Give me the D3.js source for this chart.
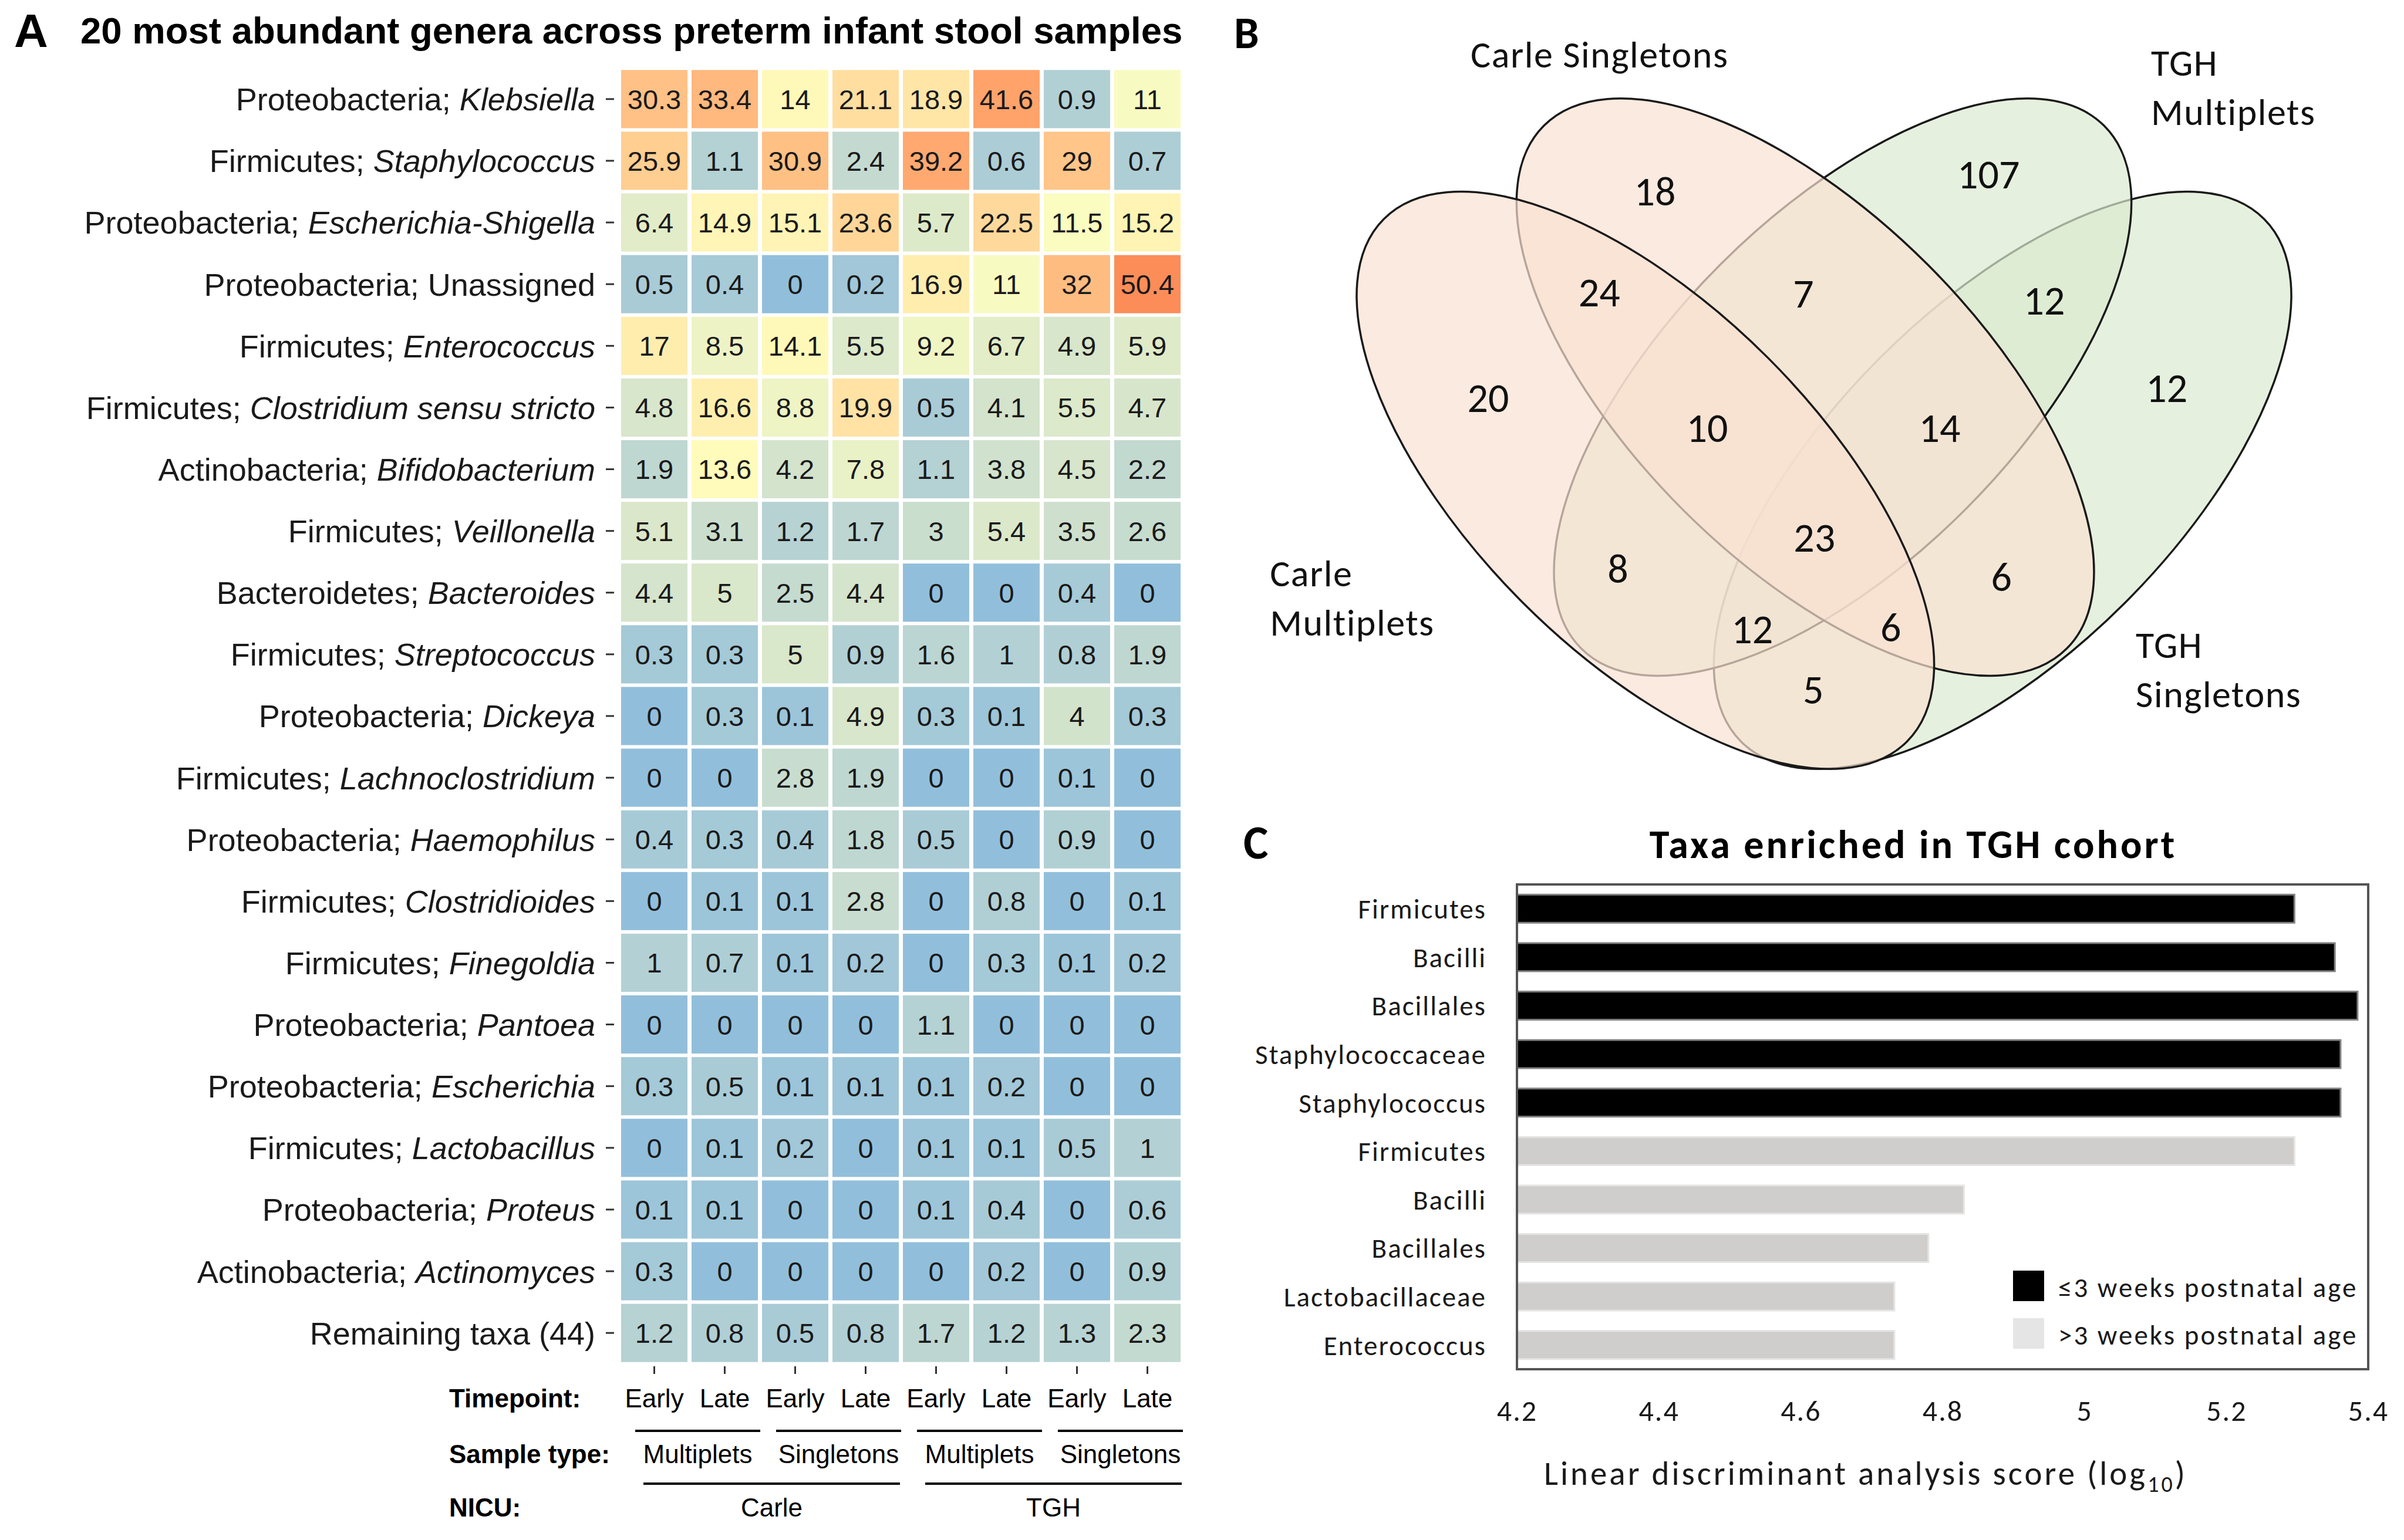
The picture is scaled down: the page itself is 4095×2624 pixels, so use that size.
<!DOCTYPE html>
<html>
<head>
<meta charset="utf-8">
<title>Preterm infant stool genera</title>
<script src="https://d3js.org/d3.v7.min.js"></script>
<style>
  body { margin: 0; background: #fff; }
  svg { display: block; }
</style>
</head>
<body>
<svg id="fig" width="4095" height="2624"></svg>
<script>
// ---- panel A data ----
const phyla = ["Proteobacteria", "Firmicutes", "Proteobacteria", "Proteobacteria", "Firmicutes",
  "Firmicutes", "Actinobacteria", "Firmicutes", "Bacteroidetes", "Firmicutes", "Proteobacteria",
  "Firmicutes", "Proteobacteria", "Firmicutes", "Firmicutes", "Proteobacteria", "Proteobacteria",
  "Firmicutes", "Proteobacteria", "Actinobacteria", null];
const genera = ["Klebsiella", "Staphylococcus", "Escherichia-Shigella", "Unassigned", "Enterococcus",
  "Clostridium sensu stricto", "Bifidobacterium", "Veillonella", "Bacteroides", "Streptococcus",
  "Dickeya", "Lachnoclostridium", "Haemophilus", "Clostridioides", "Finegoldia", "Pantoea",
  "Escherichia", "Lactobacillus", "Proteus", "Actinomyces", "Remaining taxa (44)"];
const italicGenus = genera.map(g => g !== "Unassigned" && g !== "Remaining taxa (44)");
const abundance = [
  [30.3, 33.4, 14, 21.1, 18.9, 41.6, 0.9, 11],
  [25.9, 1.1, 30.9, 2.4, 39.2, 0.6, 29, 0.7],
  [6.4, 14.9, 15.1, 23.6, 5.7, 22.5, 11.5, 15.2],
  [0.5, 0.4, 0, 0.2, 16.9, 11, 32, 50.4],
  [17, 8.5, 14.1, 5.5, 9.2, 6.7, 4.9, 5.9],
  [4.8, 16.6, 8.8, 19.9, 0.5, 4.1, 5.5, 4.7],
  [1.9, 13.6, 4.2, 7.8, 1.1, 3.8, 4.5, 2.2],
  [5.1, 3.1, 1.2, 1.7, 3, 5.4, 3.5, 2.6],
  [4.4, 5, 2.5, 4.4, 0, 0, 0.4, 0],
  [0.3, 0.3, 5, 0.9, 1.6, 1, 0.8, 1.9],
  [0, 0.3, 0.1, 4.9, 0.3, 0.1, 4, 0.3],
  [0, 0, 2.8, 1.9, 0, 0, 0.1, 0],
  [0.4, 0.3, 0.4, 1.8, 0.5, 0, 0.9, 0],
  [0, 0.1, 0.1, 2.8, 0, 0.8, 0, 0.1],
  [1, 0.7, 0.1, 0.2, 0, 0.3, 0.1, 0.2],
  [0, 0, 0, 0, 1.1, 0, 0, 0],
  [0.3, 0.5, 0.1, 0.1, 0.1, 0.2, 0, 0],
  [0, 0.1, 0.2, 0, 0.1, 0.1, 0.5, 1],
  [0.1, 0.1, 0, 0, 0.1, 0.4, 0, 0.6],
  [0.3, 0, 0, 0, 0, 0.2, 0, 0.9],
  [1.2, 0.8, 0.5, 0.8, 1.7, 1.2, 1.3, 2.3]
];
const timepoints = ["Early", "Late", "Early", "Late", "Early", "Late", "Early", "Late"];
const sampleTypes = ["Multiplets", "Singletons", "Multiplets", "Singletons"];
const nicus = ["Carle", "TGH"];

// ---- panel B data ----
const vennSets = ["Carle Multiplets", "Carle Singletons", "TGH Multiplets", "TGH Singletons"];
// membership key: CM CS TM TS
const vennKeys = ["1000", "0100", "0010", "0001", "1100", "0110", "0011", "1110", "0111",
  "1111", "1010", "0101", "1011", "1101", "1001"];
const vennCounts = [20, 18, 107, 12, 24, 7, 12, 10, 14, 23, 8, 6, 12, 6, 5];

// ---- panel C data ----
const ldaTaxa = ["Firmicutes", "Bacilli", "Bacillales", "Staphylococcaceae", "Staphylococcus",
  "Firmicutes", "Bacilli", "Bacillales", "Lactobacillaceae", "Enterococcus"];
const ldaScore = [5.296, 5.353, 5.385, 5.361, 5.361, 5.296, 4.83, 4.78, 4.732, 4.732];
const ldaGroup = [0, 0, 0, 0, 0, 1, 1, 1, 1, 1];
const groupNames = ["\u22643 weeks postnatal age", ">3 weeks postnatal age"];
const xTicks = [4.2, 4.4, 4.6, 4.8, 5, 5.2, 5.4];

const svg = d3.select("#fig");
const fA = "'Liberation Sans', Arial, Helvetica, sans-serif";
const fB = "Carlito, Calibri, Lato, sans-serif";

// ================= Panel A =================
svg.append("text").attr("x", 24).attr("y", 80).attr("font-family", fA)
  .attr("font-weight", "bold").attr("font-size", 80).text("A");
svg.append("text").attr("x", 137).attr("y", 74).attr("font-family", fA)
  .attr("font-weight", "bold").attr("font-size", 63.5)
  .text("20 most abundant genera across preterm infant stool samples");

const x = d3.scaleBand().domain(d3.range(8)).range([1052, 2017])
  .paddingInner(0.058).paddingOuter(0.05);
const y = d3.scaleBand().domain(d3.range(genera.length)).range([114, 2326])
  .paddingInner(0.057).paddingOuter(0.05);
const color = d3.scaleSqrt().domain([0, 12.6, 50.4])
  .range(["#91bfdb", "#ffffbf", "#fc8d59"]).interpolate(d3.interpolateLab).clamp(true);

const cells = [];
abundance.forEach((row, r) => row.forEach((v, c) => cells.push({ r, c, v })));

const gA = svg.append("g");
gA.selectAll("rect.cell").data(cells).join("rect")
  .attr("x", d => x(d.c)).attr("y", d => y(d.r))
  .attr("width", x.bandwidth()).attr("height", y.bandwidth())
  .attr("fill", d => color(d.v));
gA.selectAll("text.val").data(cells).join("text")
  .attr("x", d => x(d.c) + x.bandwidth() / 2).attr("y", d => y(d.r) + y.bandwidth() / 2)
  .attr("dy", "0.36em").attr("text-anchor", "middle")
  .attr("font-family", fA).attr("font-size", 47).attr("fill", "#1a1a1a")
  .text(d => d.v);

// row labels
genera.forEach((g, i) => {
  const cy = y(i) + y.bandwidth() / 2;
  const t = gA.append("text").attr("x", 1014).attr("y", cy).attr("dy", "0.36em")
    .attr("text-anchor", "end").attr("font-family", fA).attr("font-size", 54).attr("fill", "#1a1a1a");
  if (phyla[i]) t.append("tspan").text(phyla[i] + "; ");
  t.append("tspan").attr("font-style", italicGenus[i] ? "italic" : "normal").text(g);
  gA.append("line").attr("x1", 1032).attr("x2", 1046).attr("y1", cy).attr("y2", cy)
    .attr("stroke", "#333").attr("stroke-width", 3);
});
// column ticks
d3.range(8).forEach(c => {
  const cx = x(c) + x.bandwidth() / 2;
  gA.append("line").attr("x1", cx).attr("x2", cx).attr("y1", 2328).attr("y2", 2341)
    .attr("stroke", "#333").attr("stroke-width", 3);
});

// annotation rows under heatmap
const annoFont = 44;
const headers = [["Timepoint:", 2398], ["Sample type:", 2493], ["NICU:", 2584]];
headers.forEach(h => gA.append("text").attr("x", 765).attr("y", h[1]).attr("font-family", fA)
  .attr("font-weight", "bold").attr("font-size", annoFont).text(h[0]));

timepoints.forEach((t, c) => gA.append("text").attr("x", x(c) + x.bandwidth() / 2).attr("y", 2398)
  .attr("text-anchor", "middle").attr("font-family", fA).attr("font-size", annoFont).text(t));

sampleTypes.forEach((s, k) => {
  const x0 = x(2 * k) + 24, x1 = x(2 * k + 1) + x.bandwidth() + 4;
  gA.append("line").attr("x1", x0).attr("x2", x1).attr("y1", 2438).attr("y2", 2438)
    .attr("stroke", "#000").attr("stroke-width", 4);
  gA.append("text").attr("x", (x0 + x1) / 2).attr("y", 2493).attr("text-anchor", "middle")
    .attr("font-family", fA).attr("font-size", annoFont).text(s);
});
nicus.forEach((n, k) => {
  const x0 = x(4 * k) + 38, x1 = x(4 * k + 3) + x.bandwidth() + 2;
  gA.append("line").attr("x1", x0).attr("x2", x1).attr("y1", 2528).attr("y2", 2528)
    .attr("stroke", "#000").attr("stroke-width", 4);
  gA.append("text").attr("x", (x0 + x1) / 2).attr("y", 2584).attr("text-anchor", "middle")
    .attr("font-family", fA).attr("font-size", annoFont).text(n);
});

// ================= Panel B =================
const vx = d3.scaleLinear().domain([-1, 1]).range([2457, 3757]);
const vy = d3.scaleLinear().domain([-1, 1]).range([50, 1350]);
const vk = 650;
// ellipse geometry in the normalised frame
const ellipses = [
  { u: -0.468, v: 0.182, a: 0.969, b: 0.454, rot: 45, fill: "#f9e1d1" },
  { u: -0.049, v: -0.062, a: 0.969, b: 0.454, rot: 45, fill: "#f9e1d1" },
  { u: 0.049, v: -0.062, a: 0.969, b: 0.454, rot: -45, fill: "#dbead0" },
  { u: 0.468, v: 0.182, a: 0.969, b: 0.454, rot: -45, fill: "#dbead0" }
];
const gB = svg.append("g");
[3, 2, 1, 0].forEach(i => {
  const e = ellipses[i];
  const cx = vx(e.u), cy = vy(e.v);
  gB.append("ellipse").attr("cx", cx).attr("cy", cy).attr("rx", e.a * vk).attr("ry", e.b * vk)
    .attr("transform", `rotate(${e.rot} ${cx} ${cy})`)
    .attr("fill", e.fill).attr("fill-opacity", 0.7)
    .attr("stroke", "#1a1a1a").attr("stroke-width", 3.5);
});
// region label anchors (normalised frame)
const regionPos = {
  "1000": [-0.880, -0.035], "0100": [-0.443, -0.577], "0010": [0.431, -0.622], "0001": [0.898, -0.062],
  "1100": [-0.589, -0.312], "0110": [-0.054, -0.309], "0011": [0.577, -0.291], "1110": [-0.306, 0.042],
  "0111": [0.303, 0.042], "1111": [-0.025, 0.331], "1010": [-0.540, 0.412], "0101": [0.465, 0.434],
  "1011": [-0.188, 0.571], "1101": [0.175, 0.566], "1001": [-0.028, 0.729]
};
vennKeys.forEach((k, i) => {
  gB.append("text").attr("x", vx(regionPos[k][0])).attr("y", vy(regionPos[k][1]))
    .attr("dy", "0.36em").attr("text-anchor", "middle").attr("font-family", fB)
    .attr("font-size", 70).attr("fill", "#111").text(vennCounts[i]);
});
// set name anchors: [u, v, split into two lines?]
const setLabelPos = [[-1.452, 0.425, true], [-0.926, -0.935, false], [0.857, -0.914, true], [0.817, 0.613, true]];
vennSets.forEach((s, i) => {
  const p = setLabelPos[i];
  const words = p[2] ? s.split(" ") : [s];
  words.forEach((w, j) => gB.append("text").attr("x", vx(p[0])).attr("y", vy(p[1]) + j * 84)
    .attr("dy", "0.36em").attr("font-family", fB).attr("font-size", 64).attr("letter-spacing", 1.5)
    .attr("fill", "#111").text(w));
});
svg.append("text").attr("x", 2102).attr("y", 82).attr("font-family", fB)
  .attr("font-weight", "bold").attr("font-size", 76).text("B");

// ================= Panel C =================
svg.append("text").attr("x", 2118).attr("y", 1463).attr("font-family", fB)
  .attr("font-weight", "bold").attr("font-size", 80).text("C");
svg.append("text").attr("x", 3259).attr("y", 1462).attr("text-anchor", "middle").attr("font-family", fB)
  .attr("font-weight", "bold").attr("font-size", 68).attr("letter-spacing", 4)
  .text("Taxa enriched in TGH cohort");

const xC = d3.scaleLinear().domain([4.2, 5.4]).range([2584, 4034]);
const yC = d3.scaleBand().domain(d3.range(ldaTaxa.length)).range([1507, 2333])
  .paddingInner(0.42).paddingOuter(0.21);
const barFill = ["#000000", "#d0cecc"];
const barStroke = ["#808080", "#e4e4e4"];
const gC = svg.append("g");
gC.selectAll("rect.bar").data(ldaScore).join("rect")
  .attr("x", xC(4.2)).attr("y", (d, i) => yC(i))
  .attr("width", d => xC(d) - xC(4.2)).attr("height", yC.bandwidth())
  .attr("fill", (d, i) => barFill[ldaGroup[i]])
  .attr("stroke", (d, i) => barStroke[ldaGroup[i]]).attr("stroke-width", 3);
gC.append("rect").attr("x", 2584).attr("y", 1507).attr("width", 4034 - 2584).attr("height", 2333 - 1507)
  .attr("fill", "none").attr("stroke", "#555").attr("stroke-width", 4);
gC.selectAll("text.cat").data(ldaTaxa).join("text")
  .attr("x", 2532).attr("y", (d, i) => yC(i) + yC.bandwidth() / 2).attr("dy", "0.36em")
  .attr("text-anchor", "end").attr("font-family", fB).attr("font-size", 47)
  .attr("letter-spacing", 2).attr("fill", "#1a1a1a").text(d => d);

const axC = gC.append("g").attr("transform", "translate(0,2333)")
  .call(d3.axisBottom(xC).tickValues(xTicks).tickSize(0).tickPadding(52)
    .tickFormat(d => String(+d.toFixed(1))));
axC.select(".domain").remove();
axC.selectAll("text").attr("font-family", fB).attr("font-size", 50).attr("letter-spacing", 2)
  .attr("fill", "#1a1a1a");

const axTitle = gC.append("text").attr("x", 3178).attr("y", 2530).attr("text-anchor", "middle")
  .attr("font-family", fB).attr("font-size", 57).attr("letter-spacing", 4).attr("fill", "#1a1a1a");
axTitle.append("tspan").text("Linear discriminant analysis score (log");
axTitle.append("tspan").attr("font-size", 38).attr("dy", 12).text("10");
axTitle.append("tspan").attr("dy", -12).text(")");

groupNames.forEach((g, i) => {
  const ly = [2165, 2246][i];
  gC.append("rect").attr("x", 3429).attr("y", ly).attr("width", 53).attr("height", 52)
    .attr("fill", i === 0 ? "#000" : "#e5e5e5");
  gC.append("text").attr("x", 3506).attr("y", ly + 28).attr("dy", "0.36em")
    .attr("font-family", fB).attr("font-size", 47).attr("letter-spacing", 3)
    .attr("fill", "#1a1a1a").text(g);
});
</script>
</body>
</html>
